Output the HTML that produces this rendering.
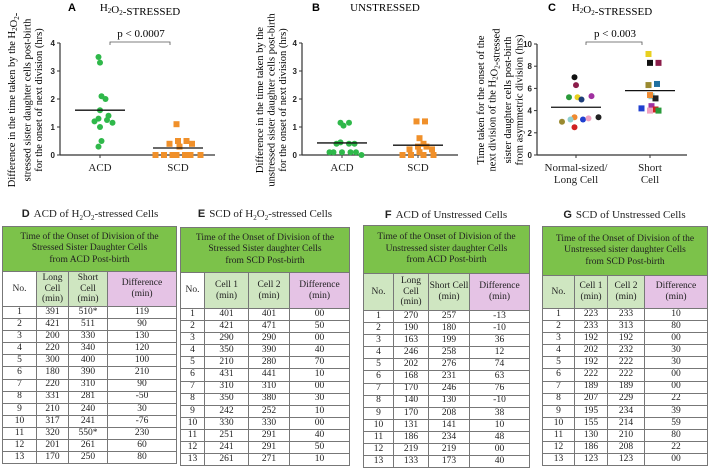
<!DOCTYPE html>
<html><head><meta charset="utf-8">
<style>
body{margin:0;width:708px;height:469px;background:#fff;overflow:hidden;position:relative;font-family:"Liberation Serif",serif;color:#222}
svg{position:absolute;left:0;top:0}
.tt{position:absolute;font-size:11px;white-space:nowrap;text-align:center}
.tt b{font-family:"Liberation Sans",sans-serif;font-size:11px;margin-right:4px}
table{position:absolute;border-collapse:collapse;table-layout:fixed;font-size:9.5px}
td{border:1px solid #777;text-align:center;padding:0;line-height:1;overflow:hidden}
.h{background:#7cc24a;font-size:9.5px;line-height:1.2}
.s{background:#cfe6c1;line-height:1.15}
.p{background:#e5c3e5;line-height:1.15}
.n{background:#fff;line-height:1.15}
tr.r td{height:11.1px}
</style></head><body>
<svg id="charts" width="708" height="205"></svg>

<div class="tt" style="left:0;top:208;width:180px;top:208px"><b>D</b>ACD of H<sub style="font-size:7px">2</sub>O<sub style="font-size:7px">2</sub>-stressed Cells</div>
<div class="tt" style="left:180px;top:208px;width:170px"><b>E</b>SCD of H<sub style="font-size:7px">2</sub>O<sub style="font-size:7px">2</sub>-stressed Cells</div>
<div class="tt" style="left:363px;top:209px;width:166px"><b>F</b>ACD of Unstressed Cells</div>
<div class="tt" style="left:542px;top:209px;width:165px"><b>G</b>SCD of Unstressed Cells</div>

<div id="tables"></div>

<script>
// ---------- chart data ----------
const aCategories=["ACD","SCD"];
const aACD=[3.5,3.3,2.1,2.0,1.6,1.4,1.3,1.25,1.2,1.15,1.0,0.5,0.3];
const aSCD=[1.1,0.5,0.5,0.4,0.4,0.3,0,0,0,0,0,0,0];
const aMeans=[1.6,0.25];
const bACD=[1.15,1.15,1.05,0.45,0.4,0.4,0.4,0.1,0.1,0.1,0.1,0.1,0.0];
const bSCD=[1.2,1.2,0.6,0.4,0.3,0.3,0.2,0.2,0.1,0,0,0,0];
const bMeans=[0.43,0.35];
const abTicks=[0,1,2,3,4];
const cLong=[7.0,6.3,5.2,5.0,5.2,5.3,3.4,3.2,3.2,3.3,3.0,3.4,2.5];
const cShort=[9.1,8.3,8.3,6.3,6.4,5.3,5.1,5.4,4.4,4.1,4.0,4.0,4.2];
const cMeans=[4.3,5.8];
const cTicks=[0,2,4,6,8,10];
const cColors=["#111","#8b1d4a","#e8d020","#1f3f7a","#2a9a3a","#a030a0","#f08a30","#2040d0","#8fd0d0","#f0a0c0","#9a8a30","#222","#d02020"];
const cColorsS=["#e8d020","#111","#8b1d4a","#9a8a30","#1f6fa0","#8fd0d0","#222","#f08a30","#a030a0","#d02020","#f0a0c0","#2a9a3a","#2040d0"];

const NS="http://www.w3.org/2000/svg";
const svg=document.getElementById('charts');
function mk(tag,attrs,parent){const e=document.createElementNS(NS,tag);for(const k in attrs)e.setAttribute(k,attrs[k]);(parent||svg).appendChild(e);return e;}

function panel(cfg){
  const g=mk('g',{});
  
  
  const y=v=>cfg.y0-(v-cfg.min)/(cfg.max-cfg.min)*(cfg.y0-cfg.y1);
  const ax=mk('line',{x1:cfg.ax,y1:cfg.y1,x2:cfg.ax,y2:cfg.y0,stroke:'#333','stroke-width':1.2},g);
  
  const xa=mk('line',{x1:cfg.ax,y1:cfg.y0,x2:cfg.axEnd,y2:cfg.y0,stroke:'#333','stroke-width':1.2},g);
  
  cfg.ticks.forEach(t=>{
    mk('line',{x1:cfg.ax-3,x2:cfg.ax,y1:y(t),y2:y(t),stroke:'#333'},g);
    const tx=mk('text',{x:cfg.ax-5,y:y(t)+3,'text-anchor':'end','font-size':8,'font-weight':'bold','font-family':'Liberation Sans, sans-serif',fill:'#222'},g);
    tx.textContent=t;
    
  });
  cfg.series.forEach((s,si)=>{
    const cx=cfg.cx[si];
    mk('line',{x1:cx,x2:cx,y1:cfg.y0,y2:cfg.y0+3,stroke:'#333'},g);
    const counts={};
    s.vals.forEach((v,i)=>{
      const key=Math.round(v*(10/(cfg.max-cfg.min))*1.6);
      counts[key]=(counts[key]||0)+1;
      const n=counts[key]-1;
      const off=(n%2?1:-1)*Math.ceil(n/2)*7+(i%3-1)*1.5;
      const col=s.colors?s.colors[i]:s.color;
      let m;
      if(s.shape==='sq') m=mk('rect',{x:cx+off-3,y:y(v)-3,width:6,height:6,fill:col},g);
      else m=mk('circle',{cx:cx+off,cy:y(v),r:3,fill:col},g);
      
    });
    const ml=mk('line',{x1:cx-25,x2:cx+25,y1:y(cfg.means[si]),y2:y(cfg.means[si]),stroke:'#111','stroke-width':1.3},g);
    
    s.label.forEach((l,li)=>{
      const t=mk('text',{x:cx,y:cfg.y0+16+li*12,'text-anchor':'middle','font-size':11,fill:'#222'},g);
      t.textContent=l;
    });
  });
  const tl=mk('text',{x:cfg.titleX,y:11,'font-size':11,'font-weight':'bold','font-family':'Liberation Sans, sans-serif'},g);
  tl.textContent=cfg.letter;
  const tt=mk('text',{x:cfg.titleC,y:11,'font-size':11,'text-anchor':'middle'},g);
  tt.innerHTML=cfg.title;
  if(cfg.p){
    const br=mk('path',{d:`M${cfg.cx[0]+10},45 v-3 H${cfg.cx[1]-8} v3`,stroke:'#555',fill:'none','stroke-width':0.8},g);
    
    const pt=mk('text',{x:(cfg.cx[0]+cfg.cx[1])/2+2,y:37,'text-anchor':'middle','font-size':11},g);
    pt.textContent=cfg.p;
  }
  const yt=mk('text',{transform:`translate(${cfg.ytX},${cfg.ytY}) rotate(-90)`,'text-anchor':'middle','font-size':10.5},g);
  
  cfg.ytLines.forEach((l,i)=>{const ts=mk('tspan',{x:0,dy:i?11.5:0},yt);ts.innerHTML=l;});
}
const sub=s=>`<tspan font-size="7" dy="2">${s}</tspan><tspan dy="-2"></tspan>`;
panel({name:'chart-a',ax:60,axEnd:215,y0:155,y1:43,min:0,max:4,ticks:abTicks,cx:[100,178],means:aMeans,
  series:[{vals:aACD,color:'#2fb84a',shape:'c',label:[aCategories[0]]},{vals:aSCD,color:'#f0902a',shape:'sq',label:[aCategories[1]]}],
  letter:'A',titleX:68,titleC:140,title:'H'+sub('2')+'O'+sub('2')+'-STRESSED',p:'p < 0.0007',
  ytX:15,ytY:100,ytLines:['Difference in the time taken by the H'+sub('2')+'O'+sub('2')+'-','stressed sister daughter cells post-birth','for the onset of next division (hrs)']});
panel({name:'chart-b',ax:302,axEnd:458,y0:155,y1:43,min:0,max:4,ticks:abTicks,cx:[342,418],means:bMeans,
  series:[{vals:bACD,color:'#2fb84a',shape:'c',label:['ACD']},{vals:bSCD,color:'#f0902a',shape:'sq',label:['SCD']}],
  letter:'B',titleX:312,titleC:385,title:'UNSTRESSED',
  ytX:263,ytY:100,ytLines:['Difference in the time taken by the','unstressed sister daughter cells post-birth','for the onset of next division (hrs)']});
panel({name:'chart-c',ax:537,axEnd:687,y0:155,y1:44,min:0,max:10,ticks:cTicks,cx:[576,650],means:cMeans,
  series:[{vals:cLong,colors:cColors,shape:'c',label:['Normal-sized/','Long Cell']},{vals:cShort,colors:cColorsS,shape:'sq',label:['Short','Cell']}],
  letter:'C',titleX:548,titleC:612,title:'H'+sub('2')+'O'+sub('2')+'-STRESSED',p:'p < 0.003',
  ytX:484,ytY:100,ytLines:['Time taken for the onset of the','next division of the H'+sub('2')+'O'+sub('2')+'-stressed','sister daughter cells post-birth','from asymmetric division (hrs)']});

// ---------- table data ----------
const dRows=[[1,391,"510*",119],[2,421,511,90],[3,200,330,130],[4,220,340,120],[5,300,400,100],[6,180,390,210],[7,220,310,90],[8,331,281,-50],[9,210,240,30],[10,317,241,-76],[11,320,"550*",230],[12,201,261,60],[13,170,250,80]];
const eRows=[[1,401,401,"00"],[2,421,471,50],[3,290,290,"00"],[4,350,390,40],[5,210,280,70],[6,431,441,10],[7,310,310,"00"],[8,350,380,30],[9,242,252,10],[10,330,330,"00"],[11,251,291,40],[12,241,291,50],[13,261,271,10]];
const fRows=[[1,270,257,-13],[2,190,180,-10],[3,163,199,36],[4,246,258,12],[5,202,276,74],[6,168,231,63],[7,170,246,76],[8,140,130,-10],[9,170,208,38],[10,131,141,10],[11,186,234,48],[12,219,219,"00"],[13,133,173,40]];
const gRows=[[1,223,233,10],[2,233,313,80],[3,192,192,"00"],[4,202,232,30],[5,192,222,30],[6,222,222,"00"],[7,189,189,"00"],[8,207,229,22],[9,195,234,39],[10,155,214,59],[11,130,210,80],[12,186,208,22],[13,123,123,"00"]];

function table(name,left,top,cols,hH,sH,head,subs,noGreen,rows){
  const t=document.createElement('table');
  
  
  t.style.left=left+'px';t.style.top=top+'px';
  t.style.width=cols.reduce((a,b)=>a+b,0)+'px';
  let h='<colgroup>'+cols.map(c=>`<col style="width:${c}px">`).join('')+'</colgroup>';
  h+=`<tr><td class="h" colspan="4" style="height:${hH}px">${head}</td></tr>`;
  h+=`<tr><td class="${noGreen?'s':'n'}" style="height:${sH}px">No.</td><td class="s">${subs[0]}</td><td class="s">${subs[1]}</td><td class="p">Difference<br>(min)</td></tr>`;
  rows.forEach(r=>{h+=`<tr class="r"><td>${r[0]}</td><td>${r[1]}</td><td>${r[2]}</td><td>${r[3]}</td></tr>`;});
  t.innerHTML=h;
  document.getElementById('tables').appendChild(t);
}
table('table-d',2,226,[34,32,39,69],44,34,'Time of the Onset of Division of the<br>Stressed Sister Daughter Cells<br>from ACD Post-birth',['Long<br>Cell<br>(min)','Short<br>Cell<br>(min)'],false,dRows);
table('table-e',180,227,[24,44,41,60],44,35,'Time of the Onset of Division of the<br>Stressed Sister daughter Cells<br>from SCD Post-birth',['Cell 1<br>(min)','Cell 2<br>(min)'],false,eRows);
table('table-f',363,225,[30,35,41,60],47,36,'Time of the Onset of Division of the<br>Unstressed sister daughter Cells<br>from ACD Post-birth',['Long<br>Cell<br>(min)','Short Cell<br>(min)'],true,fRows);
table('table-g',542,226,[32,33,37,63],48,32,'Time of the Onset of Division of the<br>Unstressed sister daughter Cells<br>from SCD Post-birth',['Cell 1<br>(min)','Cell 2<br>(min)'],true,gRows);
</script>
</body></html>
